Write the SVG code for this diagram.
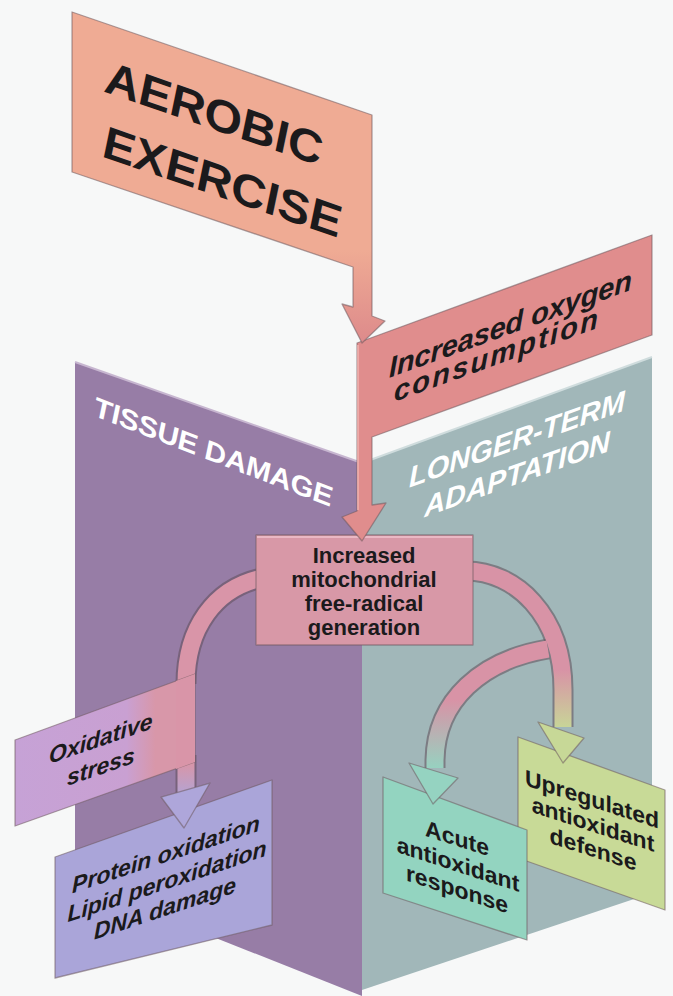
<svg xmlns="http://www.w3.org/2000/svg" width="673" height="996" viewBox="0 0 673 996">
<defs>
<style>
.t{font-family:"Liberation Sans",Arial,sans-serif;font-weight:bold;fill:#1b1a1c}
.it{font-style:italic}
.w{fill:#ffffff}
.box{stroke:#6e5a5e;stroke-opacity:0.55;stroke-width:1.3;stroke-linejoin:round}
.ol{fill:none;stroke:#5f4c58;stroke-opacity:0.55;stroke-width:21}
.band{fill:none;stroke-width:17}
</style>
<linearGradient id="gAer" gradientUnits="userSpaceOnUse" x1="0" y1="250" x2="0" y2="343">
<stop offset="0" stop-color="#efab94"/><stop offset="1" stop-color="#dd8a8b"/>
</linearGradient>
<linearGradient id="gOx" gradientUnits="userSpaceOnUse" x1="15" y1="0" x2="195" y2="0">
<stop offset="0" stop-color="#c6a2d6"/><stop offset="0.62" stop-color="#c9a0d2"/><stop offset="0.78" stop-color="#d897a9"/><stop offset="1" stop-color="#d897a9"/>
</linearGradient>
<linearGradient id="gStemL" gradientUnits="userSpaceOnUse" x1="0" y1="765" x2="0" y2="800">
<stop offset="0" stop-color="#d696aa"/><stop offset="1" stop-color="#aea6da"/>
</linearGradient>
<linearGradient id="gUp" gradientUnits="userSpaceOnUse" x1="0" y1="670" x2="0" y2="730">
<stop offset="0" stop-color="#d893a6"/><stop offset="1" stop-color="#c7d897"/>
</linearGradient>
<linearGradient id="gAc" gradientUnits="userSpaceOnUse" x1="0" y1="700" x2="0" y2="770">
<stop offset="0" stop-color="#d893a6"/><stop offset="1" stop-color="#95d3c1"/>
</linearGradient>
</defs>

<rect x="0" y="0" width="673" height="996" fill="#f7f8f8"/>

<g id="walls">
<polygon points="75,362 362,463 362,996 75,882" fill="#977da6"/>
<polygon points="362,463 652,357 652,893 362,990" fill="#a1b7b9"/>
<line x1="75" y1="362" x2="362" y2="463" stroke="#c7b6d0" stroke-width="2"/>
<line x1="362" y1="463" x2="652" y2="357" stroke="#cfdcdd" stroke-width="2"/>
<text class="t w it" font-size="29" transform="translate(94,416) skewY(21)" textLength="238" lengthAdjust="spacing">TISSUE DAMAGE</text>
<text class="t w it" font-size="29" text-anchor="middle" transform="translate(517,449) skewY(-19.7)">LONGER-TERM</text>
<text class="t w it" font-size="29" text-anchor="middle" transform="translate(517,484) skewY(-19.7)">ADAPTATION</text>
</g>

<g id="protein">
<polygon class="box" points="55,857 272,780 272,925 55,978" fill="#aaa5d9"/>
<text class="t it" font-size="23" text-anchor="middle" transform="translate(166,862) skewY(-18.5)">Protein oxidation</text>
<text class="t it" font-size="23" text-anchor="middle" transform="translate(167,889) skewY(-18.5)">Lipid peroxidation</text>
<text class="t it" font-size="23" text-anchor="middle" transform="translate(165,916) skewY(-18.5)">DNA damage</text>
</g>

<g id="upregulated">
<polygon class="box" points="518,737 665,790 665,910 518,858" fill="#c8da97"/>
<text class="t" font-size="23" text-anchor="middle" transform="translate(592,807) skewY(18)">Upregulated</text>
<text class="t" font-size="23" text-anchor="middle" transform="translate(593,832) skewY(18)">antioxidant</text>
<text class="t" font-size="23" text-anchor="middle" transform="translate(593,857) skewY(18)">defense</text>
</g>

<g id="acute">
<polygon class="box" points="383,777 527,830 527,940 383,893" fill="#93d4c0"/>
<text class="t" font-size="23" text-anchor="middle" transform="translate(457,846) skewY(18)">Acute</text>
<text class="t" font-size="23" text-anchor="middle" transform="translate(458,872) skewY(18)">antioxidant</text>
<text class="t" font-size="23" text-anchor="middle" transform="translate(457,897) skewY(18)">response</text>
</g>

<g id="connectors">
<path class="ol" d="M262 578 C215 588,186 628,186 684"/>
<path class="ol" d="M186 755 L186 793"/>
<path class="ol" d="M548 649 C482 660,436 700,435 760 L435 768"/>
<path class="ol" d="M466 571 C515 571,563 615,563 690 L563 727"/>
<path class="band" stroke="#d995a8" d="M262 578 C215 588,186 628,186 684"/>
<path class="band" stroke="url(#gStemL)" d="M186 755 L186 793"/>
<path class="band" stroke="url(#gAc)" d="M548 649 C482 660,436 700,435 760 L435 768"/>
<path class="band" stroke="url(#gUp)" d="M466 571 C515 571,563 615,563 690 L563 727"/>
<polygon class="box" points="161,797 210,783 184,828" fill="#aea6da"/>
<polygon class="box" points="538,722 584,738 563,763" fill="#c7d897"/>
<polygon class="box" points="409,763 458,778 433,804" fill="#95d3c1"/>
</g>

<g id="oxidative">
<polygon class="box" points="15,740 195,674 195,762 15,826" fill="url(#gOx)"/>
<polygon points="176,681 195,674 195,762 176,769" fill="#d995a8"/>
<text class="t it" font-size="23" transform="translate(49,764) skewY(-19)">Oxidative</text>
<text class="t it" font-size="23" transform="translate(67,786) skewY(-19)">stress</text>
</g>

<g id="mitochondrial">
<rect class="box" x="256" y="535" width="217" height="110" fill="#d898a7"/>
<line x1="257" y1="537" x2="472" y2="537" stroke="#eab8c4" stroke-width="2"/>
<text class="t" font-size="22" text-anchor="middle" x="364" y="563">Increased</text>
<text class="t" font-size="22" text-anchor="middle" x="364" y="587">mitochondrial</text>
<text class="t" font-size="22" text-anchor="middle" x="364" y="611">free-radical</text>
<text class="t" font-size="22" text-anchor="middle" x="364" y="635">generation</text>
</g>

<g id="oxygen">
<polygon class="box" points="357,343 652,235 652,335 372,437 372,505 386,503 362,541 342,517 357,511" fill="#e08d8d"/>
<line x1="358" y1="345" x2="358" y2="510" stroke="#f0b4b0" stroke-width="1.5"/>
<text class="t it" font-size="29" transform="translate(389,378) skewY(-20)" textLength="243" lengthAdjust="spacing">Increased oxygen</text>
<text class="t it" font-size="29" transform="translate(394,402) skewY(-20)" textLength="204" lengthAdjust="spacing">consumption</text>
</g>

<g id="aerobic">
<polygon class="box" points="72,12 372,115 372,316 385,321 362,343 342,304 353,307 353,267 72,172" fill="url(#gAer)"/>
<text class="t it" font-size="47" transform="translate(105,92) skewY(19)">AEROBIC</text>
<text class="t it" font-size="47" transform="translate(103,157) skewY(19)">EXERCISE</text>
</g>
</svg>
